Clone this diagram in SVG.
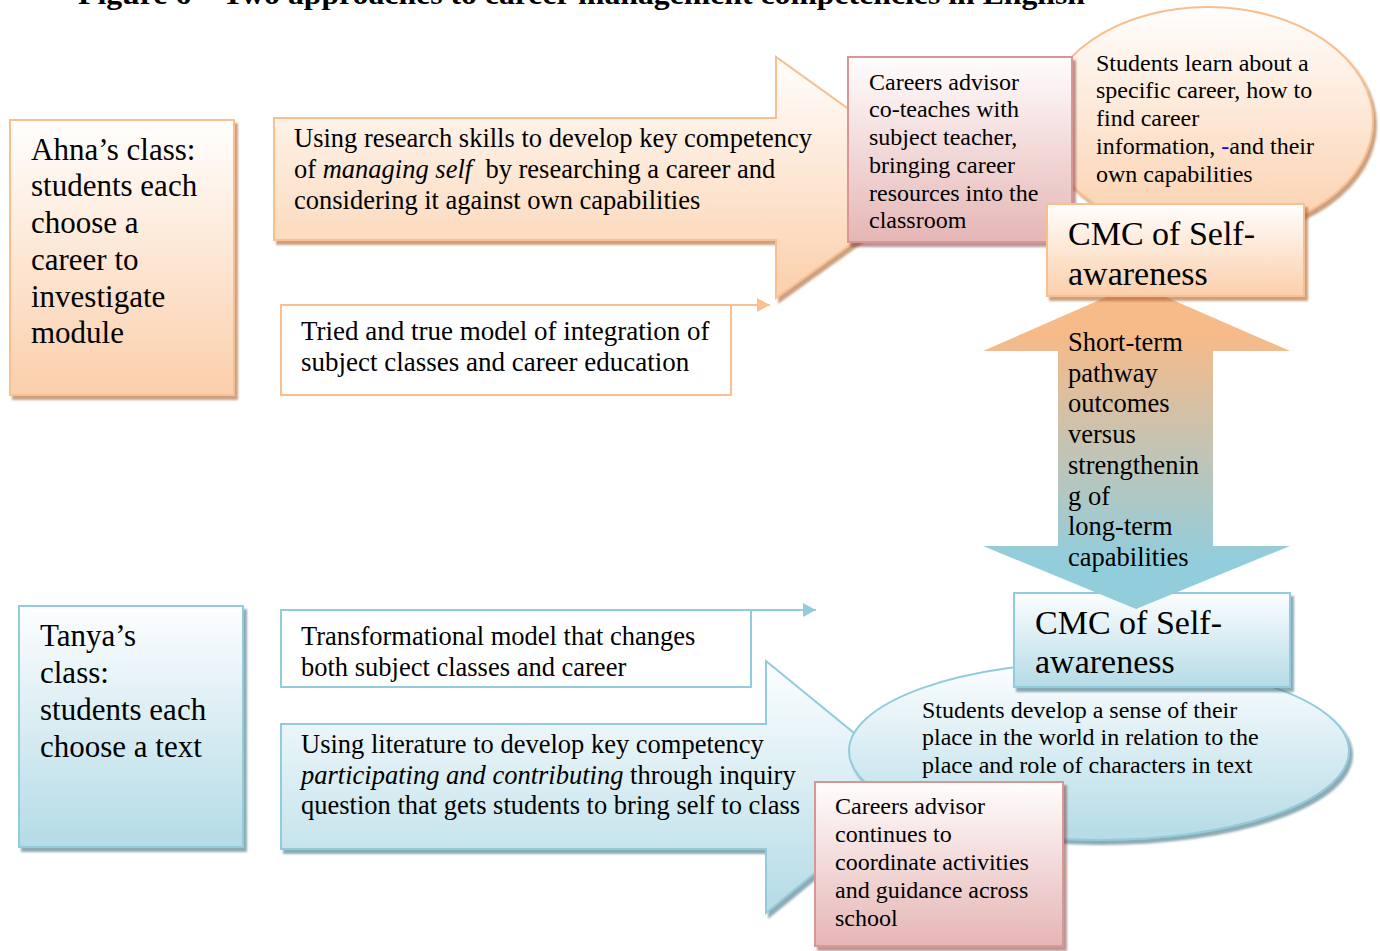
<svg xmlns="http://www.w3.org/2000/svg" width="1380" height="951" viewBox="0 0 1380 951">
<style>
text{font-family:"Liberation Serif","Times New Roman",serif;fill:#000}
.t31{font-size:31px}
.t26{font-size:26.5px}
.t24{font-size:24px}
.t34{font-size:34px}
.ttl{font-size:30px;font-weight:bold}
.oS{stroke:#f9bf8f;stroke-width:2}
.bS{stroke:#92ccdc;stroke-width:2}
.pS{stroke:#d99694;stroke-width:2}
</style>
<defs>
<linearGradient id="gO" x1="0" y1="0" x2="0" y2="1"><stop offset="0" stop-color="#fffefd"/><stop offset="1" stop-color="#fbcfab"/></linearGradient>
<linearGradient id="gB" x1="0" y1="0" x2="0" y2="1"><stop offset="0" stop-color="#fdfeff"/><stop offset="1" stop-color="#b4dbe6"/></linearGradient>
<linearGradient id="gP" x1="0" y1="0" x2="0" y2="1"><stop offset="0" stop-color="#fffdfd"/><stop offset="1" stop-color="#e5b6b5"/></linearGradient>
<linearGradient id="gD" gradientUnits="userSpaceOnUse" x1="0" y1="284" x2="0" y2="610"><stop offset="0.15" stop-color="#f7ba89"/><stop offset="0.85" stop-color="#92cddc"/></linearGradient>
<filter id="shO" x="-5%" y="-5%" width="115%" height="120%"><feDropShadow dx="3" dy="4" stdDeviation="0.8" flood-color="#a8622e" flood-opacity="0.6"/></filter>
<filter id="shB" x="-5%" y="-5%" width="115%" height="120%"><feDropShadow dx="3" dy="4" stdDeviation="0.8" flood-color="#3f7383" flood-opacity="0.6"/></filter>
<filter id="shP" x="-5%" y="-5%" width="115%" height="120%"><feDropShadow dx="3" dy="4" stdDeviation="0.8" flood-color="#804444" flood-opacity="0.55"/></filter>
<marker id="mO" markerUnits="userSpaceOnUse" markerWidth="14" markerHeight="15" refX="13" refY="7" orient="auto"><path d="M0,0 L13,7 L0,14 Z" fill="#fac090"/></marker>
<marker id="mB" markerUnits="userSpaceOnUse" markerWidth="14" markerHeight="15" refX="13" refY="7" orient="auto"><path d="M0,0 L13,7 L0,14 Z" fill="#93cddd"/></marker>
</defs>
<rect width="1380" height="951" fill="#fff"/>
<text class="ttl" x="78" y="4" textLength="1007" lengthAdjust="spacingAndGlyphs">Figure 6 – Two approaches to career management competencies in English</text>

<g id="anna">
<rect x="10" y="120" width="224" height="275" fill="url(#gO)" class="oS" filter="url(#shO)"/>
<text class="t31" x="31"><tspan x="31" y="160">Ahna’s class:</tspan><tspan x="31" y="196">students each</tspan><tspan x="31" y="233">choose a</tspan><tspan x="31" y="270">career to</tspan><tspan x="31" y="307">investigate</tspan><tspan x="31" y="343">module</tspan></text>
</g>

<g id="research-arrow">
<path d="M274,118 H776 V57 L944,177.5 L776,298 V240 H274 Z" fill="url(#gO)" class="oS" filter="url(#shO)"/>
<text class="t26"><tspan x="294" y="147">Using research skills to develop key competency</tspan><tspan x="294" y="178">of <tspan font-style="italic">managing self</tspan>&#160; by researching a career and</tspan><tspan x="294" y="209">considering it against own capabilities</tspan></text>
</g>

<g id="learn-ellipse">
<ellipse cx="1208" cy="121" rx="165" ry="114" fill="url(#gO)" class="oS" filter="url(#shO)"/>
<text class="t24"><tspan x="1096" y="71">Students learn about a</tspan><tspan x="1096" y="98">specific career, how to</tspan><tspan x="1096" y="126">find career</tspan><tspan x="1096" y="154">information, <tspan fill="#0000ff">-</tspan>and their</tspan><tspan x="1096" y="182">own capabilities</tspan></text>
</g>

<g id="advisor-top">
<rect x="848" y="57" width="224" height="185" fill="url(#gP)" class="pS" filter="url(#shP)"/>
<text class="t24"><tspan x="869" y="90">Careers advisor</tspan><tspan x="869" y="117">co-teaches with</tspan><tspan x="869" y="145">subject teacher,</tspan><tspan x="869" y="173">bringing career</tspan><tspan x="869" y="201">resources into the</tspan><tspan x="869" y="228">classroom</tspan></text>
</g>

<g id="literature-arrow">
<path d="M281,724 H766 V661 L920,787 L766,913 V849 H281 Z" fill="url(#gB)" class="bS" filter="url(#shB)"/>
<text class="t26"><tspan x="301" y="753">Using literature to develop key competency</tspan><tspan x="301" y="784"><tspan font-style="italic">participating and contributing</tspan> through inquiry</tspan><tspan x="301" y="814">question that gets students to bring self to class</tspan></text>
</g>

<g id="develop-ellipse">
<ellipse cx="1099" cy="751" rx="250" ry="89" fill="url(#gB)" class="bS" filter="url(#shB)"/>
<text class="t24"><tspan x="922" y="718">Students develop a sense of their</tspan><tspan x="922" y="745">place in the world in relation to the</tspan><tspan x="922" y="773">place and role of characters in text</tspan></text>
</g>

<g id="cmc-bottom">
<rect x="1014" y="593" width="276" height="94" fill="url(#gB)" class="bS" filter="url(#shB)"/>
<text class="t34"><tspan x="1035" y="634">CMC of Self-</tspan><tspan x="1035" y="673">awareness</tspan></text>
</g>

<g id="double-arrow">
<path d="M1136,284 L1290,351 H1213 V546 H1290 L1136,609 L983,546 H1058 V351 H983 Z" fill="url(#gD)"/>
<text class="t26"><tspan x="1068" y="351">Short-term</tspan><tspan x="1068" y="382">pathway</tspan><tspan x="1068" y="412">outcomes</tspan><tspan x="1068" y="443">versus</tspan><tspan x="1068" y="474">strengthenin</tspan><tspan x="1068" y="505">g of</tspan><tspan x="1068" y="535">long-term</tspan><tspan x="1068" y="566">capabilities</tspan></text>
</g>

<g id="cmc-top">
<rect x="1047" y="204" width="257" height="92" fill="url(#gO)" class="oS" filter="url(#shO)"/>
<text class="t34"><tspan x="1068" y="245">CMC of Self-</tspan><tspan x="1068" y="285">awareness</tspan></text>
</g>

<g id="advisor-bottom">
<rect x="815" y="782" width="248" height="164" fill="url(#gP)" class="pS" filter="url(#shP)"/>
<text class="t24"><tspan x="835" y="814">Careers advisor</tspan><tspan x="835" y="842">continues to</tspan><tspan x="835" y="870">coordinate activities</tspan><tspan x="835" y="898">and guidance across</tspan><tspan x="835" y="926">school</tspan></text>
</g>

<g id="tanya">
<rect x="19" y="606" width="224" height="241" fill="url(#gB)" class="bS" filter="url(#shB)"/>
<text class="t31"><tspan x="40" y="646">Tanya’s</tspan><tspan x="40" y="683">class:</tspan><tspan x="40" y="720">students each</tspan><tspan x="40" y="757">choose a text</tspan></text>
</g>

<g id="tried-model">
<rect x="281" y="305" width="450" height="90" fill="#fff" class="oS"/>
<text style="font-size:27px"><tspan x="301" y="340">Tried and true model of integration of</tspan><tspan x="301" y="371">subject classes and career education</tspan></text>
</g>

<g id="transformational-model">
<rect x="281" y="610" width="470" height="77" fill="#fff" class="bS"/>
<text class="t26"><tspan x="301" y="645">Transformational model that changes</tspan><tspan x="301" y="676">both subject classes and career</tspan></text>
</g>

<g id="connectors">
<line x1="731" y1="305" x2="770" y2="305" stroke="#fac090" stroke-width="2" marker-end="url(#mO)"/>
<line x1="751" y1="610" x2="816" y2="610" stroke="#93cddd" stroke-width="2" marker-end="url(#mB)"/>
</g>
</svg>
